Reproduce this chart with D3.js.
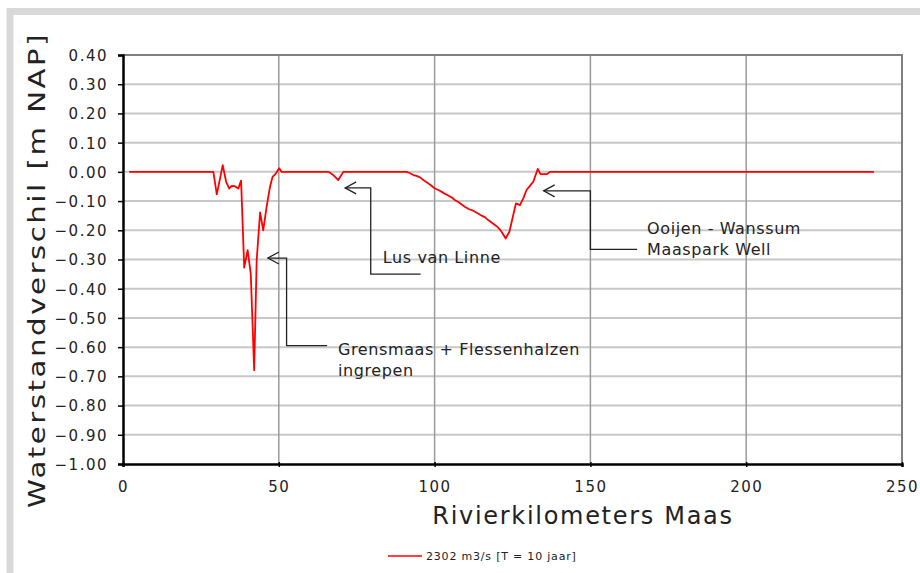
<!DOCTYPE html>
<html>
<head>
<meta charset="utf-8">
<script src="https://cdn.jsdelivr.net/npm/d3@7"></script>
<style>
  body { margin: 0; background: #fff; }
  text { font-family: "DejaVu Sans", Verdana, sans-serif; fill: #222; }
  .grid-h line { stroke: #c8c8c8; stroke-width: 2; }
  .grid-v line { stroke: #9a9a9a; stroke-width: 1.5; }
  .axis path, .axis line { stroke: #000; }
  .tick-lbl { font-size: 15px; letter-spacing: 1.5px; }
  .note { font-size: 16px; letter-spacing: 0.6px; }
  .arrow { fill: none; stroke: #222; stroke-width: 1.3; }
</style>
</head>
<body>
<div id="container"></div>
<script>
// rivierkilometers
var km = [2, 29, 30.1, 32, 33.1, 34.1, 34.9, 35.9, 37, 37.9, 38.9, 40, 41, 42.1, 42.9, 44, 45, 46.1, 47.2, 48, 49.1, 50.1, 50.9,
  65.9, 67.5, 69.1, 70.7,
  91, 92, 93.2, 94.2, 95.3, 96.4, 97.5, 98.8, 100.1, 101.4, 102.8, 104.2, 105.5, 106.6, 107.6, 108.7, 109.8, 111.1, 112.4,
  113.7, 115.1, 116.1, 117.2, 118.5, 119.9, 120.7, 121.5, 122.8, 124, 126.1, 127.4, 128.5, 129.5, 130.6, 131.7, 133.1, 134, 136, 137, 241];
// waterstandverschil [m]
var verschil = [0, 0, -0.077, 0.023, -0.034, -0.057, -0.048, -0.049, -0.057, -0.03, -0.328, -0.268, -0.348, -0.679, -0.302, -0.139, -0.2, -0.119, -0.05, -0.017, -0.005, 0.012, 0,
  0, -0.011, -0.028, 0,
  0, -0.004, -0.011, -0.014, -0.019, -0.028, -0.036, -0.046, -0.057, -0.063, -0.072, -0.08, -0.088, -0.097, -0.103, -0.112, -0.12, -0.128, -0.133,
  -0.141, -0.15, -0.155, -0.165, -0.175, -0.186, -0.194, -0.205, -0.228, -0.205, -0.108, -0.114, -0.09, -0.062, -0.048, -0.033, 0.01, -0.008, -0.008, 0, 0];

var xTicks = [0, 50, 100, 150, 200, 250];
var yTicks = [0.4, 0.3, 0.2, 0.1, 0, -0.1, -0.2, -0.3, -0.4, -0.5, -0.6, -0.7, -0.8, -0.9, -1.0];

// annotaties: pijlpunt, knik, eindpunt en tekstplaats in (km, m)
var notes = [
  { tip: [46.5, -0.295], bendX: 52.5, endY: -0.595, endX: 65.5, text: [69, -0.627], lines: ["Grensmaas + Flessenhalzen", "ingrepen"] },
  { tip: [71.3, -0.055], bendX: 79.5, endY: -0.35, endX: 95.5, text: [83.4, -0.312], lines: ["Lus van Linne"] },
  { tip: [135, -0.065], bendX: 150, endY: -0.265, endX: 165, text: [168.2, -0.213], lines: ["Ooijen - Wanssum", "Maaspark Well"] }
];

var w = 920, h = 573;
var margin = { top: 55, right: 18, bottom: 109, left: 123 };

var svg = d3.select("#container").append("svg")
  .attr("width", w)
  .attr("height", h);

// grijze kader
svg.append("rect")
  .attr("x", 10).attr("y", 11.5)
  .attr("width", 960).attr("height", 620)
  .attr("fill", "none")
  .attr("stroke", "#d9d9d9")
  .attr("stroke-width", 7);

var x = d3.scaleLinear().domain([0, 250]).range([margin.left, w - margin.right]);
var y = d3.scaleLinear().domain([-1, 0.4]).range([h - margin.bottom, margin.top]);

// rasterlijnen
svg.append("g").attr("class", "grid-h")
  .selectAll("line").data(yTicks.slice(1, -1)).enter().append("line")
  .attr("x1", x(0)).attr("x2", x(250))
  .attr("y1", function(d) { return y(d); })
  .attr("y2", function(d) { return y(d); });

svg.append("g").attr("class", "grid-v")
  .selectAll("line").data(xTicks.slice(1, -1)).enter().append("line")
  .attr("y1", y(-1)).attr("y2", y(0.4))
  .attr("x1", function(d) { return x(d); })
  .attr("x2", function(d) { return x(d); });

// rand boven en rechts
svg.append("path")
  .attr("d", "M" + x(0) + "," + y(0.4) + "H" + x(250) + "V" + y(-1))
  .attr("fill", "none")
  .attr("stroke", "#808080")
  .attr("stroke-width", 2);

// assen
var xAxis = svg.append("g").attr("class", "axis")
  .attr("transform", "translate(0," + y(-1) + ")")
  .call(d3.axisBottom(x).tickValues(xTicks).tickSize(3).tickFormat(d3.format("d")));
xAxis.select(".domain").attr("stroke-width", 2.5);
xAxis.selectAll(".tick line").attr("y1", -2).attr("stroke-width", 1.5);
xAxis.selectAll("text").attr("class", "tick-lbl").attr("fill", "#222").attr("dy", null).attr("y", 28);

var yAxis = svg.append("g").attr("class", "axis")
  .attr("transform", "translate(" + x(0) + ",0)")
  .call(d3.axisLeft(y).tickValues(yTicks).tickSize(5).tickFormat(d3.format(".2f")));
yAxis.select(".domain").attr("stroke-width", 2.5);
yAxis.selectAll(".tick line").attr("stroke-width", 1.5);
yAxis.selectAll("text").attr("class", "tick-lbl").attr("fill", "#222").attr("x", -15).attr("dy", "0.36em");

// astitels
svg.append("text")
  .attr("x", 583).attr("y", 524)
  .attr("text-anchor", "middle")
  .style("font-size", "24px")
  .style("letter-spacing", "1.7px")
  .text("Rivierkilometers Maas");

svg.append("text")
  .attr("transform", "translate(45,270) rotate(-90) scale(1.27,1)")
  .attr("text-anchor", "middle")
  .style("font-size", "23px")
  .style("letter-spacing", "2px")
  .text("Waterstandverschil [m NAP]");

// de lijn
var line = d3.line()
  .x(function(d, i) { return x(km[i]); })
  .y(function(d) { return y(d); });

svg.append("path")
  .datum(verschil)
  .attr("d", line)
  .attr("fill", "none")
  .attr("stroke", "#ff0000")
  .attr("stroke-width", 1.8)
  .attr("stroke-linejoin", "round");

// annotaties met pijlen
notes.forEach(function(n) {
  var tx = x(n.tip[0]), ty = y(n.tip[1]);
  var bx = x(n.bendX), ey = y(n.endY), ex = x(n.endX);
  svg.append("path").attr("class", "arrow")
    .attr("d", "M" + tx + "," + ty + "H" + bx + "V" + ey + "H" + ex);
  svg.append("path").attr("class", "arrow")
    .attr("d", "M" + (tx + 11) + "," + (ty - 6) + "L" + tx + "," + ty + "L" + (tx + 11) + "," + (ty + 6));
  var t = svg.append("text").attr("class", "note");
  n.lines.forEach(function(s, i) {
    t.append("tspan")
      .attr("x", x(n.text[0]))
      .attr("y", y(n.text[1]) + i * 21)
      .text(s);
  });
});

// legenda
svg.append("line")
  .attr("x1", 388).attr("x2", 422)
  .attr("y1", 556).attr("y2", 556)
  .attr("stroke", "#ff0000").attr("stroke-width", 1.5);
svg.append("text")
  .attr("x", 426).attr("y", 560)
  .style("font-size", "11px")
  .style("letter-spacing", "0.8px")
  .text("2302 m3/s [T = 10 jaar]");
</script>
</body>
</html>
